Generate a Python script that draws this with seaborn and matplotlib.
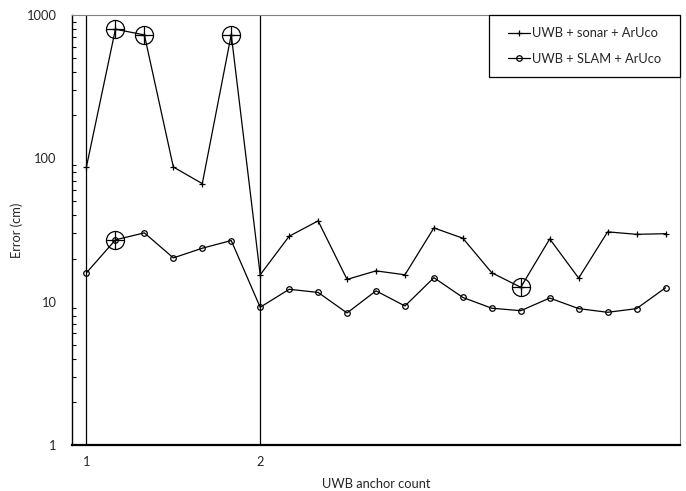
import matplotlib
matplotlib.use("Agg")
import matplotlib.pyplot as plt
from matplotlib.patches import Rectangle
import seaborn as sns
import numpy as np
import pandas as pd

# readings per test run, anchor count switches from 1 to 2 at run 6
run_idx = list(range(21))
sonar_err = [87.5, 796, 726, 87, 66.6, 730, 15.4, 28.6, 36.6, 14.3, 16.4,
             15.4, 32.7, 27.7, 15.9, 12.6, 27.4, 14.6, 30.7, 29.5, 29.8]
slam_err = [15.9, 27.0, 30.2, 20.2, 23.6, 26.7, 9.14, 12.2, 11.6, 8.34, 11.9,
            9.33, 14.7, 10.7, 9.0, 8.65, 10.6, 8.94, 8.43, 8.94, 12.5]
tick_labels = {0: "1", 6: "2"}
anchor_switch = [0, 6]
# highlighted points (index into the series)
hl_sonar = [1, 2, 5, 15]
hl_slam = [1]

sns.set_style("white")
plt.rcParams['font.family'] = ['Lato', 'DejaVu Sans']
FS = 9.3

df = pd.DataFrame({
    "run": run_idx * 2,
    "err": sonar_err + slam_err,
    "method": ["UWB + sonar + ArUco"] * 21 + ["UWB + SLAM + ArUco"] * 21,
})

fig = plt.figure(figsize=(6.86, 4.91), dpi=100)
ax = fig.add_axes([72/686, 1-445/491, (680-72)/686, (445-15)/491])

for x in anchor_switch:
    ax.axvline(x, color="black", lw=0.9, zorder=1)

sns.lineplot(data=df[df.method == "UWB + sonar + ArUco"], x="run", y="err",
             color="black", lw=0.9, marker="+", markersize=5,
             markeredgewidth=0.9, markeredgecolor="black",
             label="UWB + sonar + ArUco", ax=ax, zorder=3)
sns.lineplot(data=df[df.method == "UWB + SLAM + ArUco"], x="run", y="err",
             color="black", lw=0.9, marker="o", markersize=4,
             markeredgewidth=0.9, markeredgecolor="black",
             markerfacecolor="none", label="UWB + SLAM + ArUco", ax=ax, zorder=3)

hx = hl_sonar + hl_slam
hy = [sonar_err[i] for i in hl_sonar] + [slam_err[i] for i in hl_slam]
ax.plot(hx, hy, ls="none", marker="o", markersize=13, mfc="none",
        mec="black", mew=0.9, zorder=4)
ax.plot(hx, hy, ls="none", marker="+", markersize=13, mec="black",
        mew=0.9, zorder=4)

ax.set_yscale("log")
ax.set_ylim(1, 1000)
ax.set_xlim(-0.5, 20.5)
ax.set_yticks([1, 10, 100, 1000])
ax.set_yticklabels(["1", "10", "100", "1000"])
ax.set_xticks(run_idx)
ax.set_xticklabels([tick_labels.get(i, "") for i in run_idx])
ax.tick_params(axis="both", which="both", direction="in", labelsize=FS,
               color="black", length=4, width=0.8)
ax.tick_params(axis="y", which="minor", length=3, left=True)
ax.tick_params(axis="x", pad=8)
ax.tick_params(axis="y", pad=11)
ax.set_xlabel("UWB anchor count", fontsize=FS, labelpad=7)
ax.set_ylabel("Error (cm)", fontsize=FS, labelpad=3)

for s in ["top", "right"]:
    ax.spines[s].set_color("#808080")
    ax.spines[s].set_linewidth(0.8)
ax.spines["left"].set_color("black")
ax.spines["left"].set_linewidth(1.0)
ax.spines["bottom"].set_color("black")
ax.spines["bottom"].set_linewidth(1.6)

# legend box: wider than tall padding, so draw the frame separately
bx0, by0 = (489 - 72) / 608, (445 - 77) / 430
ax.add_patch(Rectangle((bx0, by0), 1 - bx0, 1 - by0, transform=ax.transAxes,
                       facecolor="white", edgecolor="black", lw=0.9,
                       zorder=5, clip_on=False))
leg = ax.legend(loc="center", bbox_to_anchor=((bx0 + 1) / 2, (by0 + 1) / 2),
                fontsize=FS, frameon=False, handlelength=1.7,
                handletextpad=0.2, labelspacing=1.05, borderpad=0)
leg.set_zorder(6)

fig.savefig("out.png", dpi=100)
